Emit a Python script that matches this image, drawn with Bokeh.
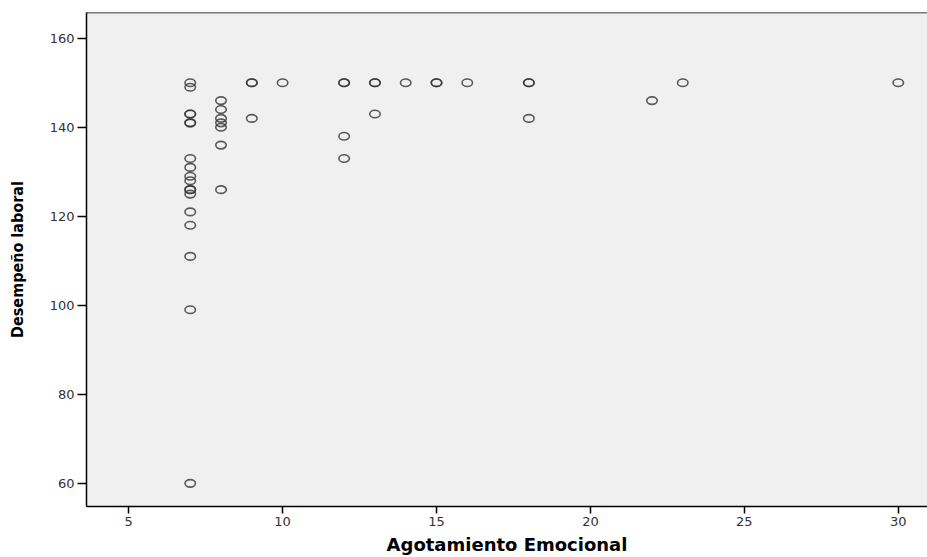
from bokeh.plotting import figure
from bokeh.models import Range1d, FixedTicker, Span
from bokeh.embed import file_html
from bokeh.resources import INLINE

# Data
agotamiento = [7]*18 + [8]*7 + [9]*3 + [10] + [12]*4 + [13]*3 + [14] + [15]*2 + [16] + [18]*3 + [22] + [23] + [30]
desempeno = [150, 149, 143, 143, 141, 141, 133, 131, 129, 128, 126, 126, 125, 121, 118, 111, 99, 60,
             146, 144, 142, 141, 140, 136, 126,
             150, 150, 142,
             150,
             150, 150, 138, 133,
             150, 150, 143,
             150,
             150, 150,
             150,
             150, 150, 142,
             146,
             150,
             150]
x_ticks = [5, 10, 15, 20, 25, 30]
y_ticks = [60, 80, 100, 120, 140, 160]
x_title = "Agotamiento Emocional"
y_title = "Desempeño laboral"

X0, X1 = 3.63, 30.95
Y0, Y1 = 54.8, 165.8

p = figure(width=927, height=557, output_backend="svg", toolbar_location=None,
           x_range=Range1d(X0, X1), y_range=Range1d(Y0, Y1),
           min_border_left=86, min_border_right=0, min_border_top=12, min_border_bottom=51)

p.background_fill_color = "#f0f0f0"
p.border_fill_color = "white"
p.outline_line_color = None
p.xgrid.visible = False
p.ygrid.visible = False

p.ellipse(x=agotamiento, y=desempeno, width=10.5, height=7.5,
          width_units="screen", height_units="screen",
          fill_color=None, line_color="#333333", line_alpha=0.8, line_width=1.6)

p.add_layout(Span(location=Y1, dimension="width", line_color="black", line_width=1.5))

for ax in (p.xaxis[0], p.yaxis[0]):
    ax.axis_line_color = "black"
    ax.axis_line_width = 1.5
    ax.major_tick_line_color = "black"
    ax.major_tick_line_width = 1.5
    ax.minor_tick_line_color = None
    ax.major_tick_in = 0
    ax.major_label_text_font = "DejaVu Sans"
    ax.major_label_text_font_size = "13px"
    ax.major_label_text_color = "#333333"
    ax.axis_label_text_color = "black"
    ax.axis_label_text_font_style = "bold"

p.xaxis.ticker = FixedTicker(ticks=x_ticks)
p.yaxis.ticker = FixedTicker(ticks=y_ticks)
p.xaxis.major_tick_out = 7
p.yaxis.major_tick_out = 9
p.xaxis.major_label_standoff = 3
p.yaxis.major_label_standoff = 3

p.xaxis.axis_label = x_title
p.xaxis.axis_label_text_font = "DejaVu Sans"
p.xaxis.axis_label_text_font_size = "18px"
p.xaxis.axis_label_standoff = 5

p.yaxis.axis_label = y_title
p.yaxis.axis_label_text_font = "Liberation Sans Narrow, DejaVu Sans Condensed, Roboto"
p.yaxis.axis_label_text_font_size = "16px"
p.yaxis.axis_label_standoff = 20

open("out.html", "w").write(file_html(p, INLINE))
